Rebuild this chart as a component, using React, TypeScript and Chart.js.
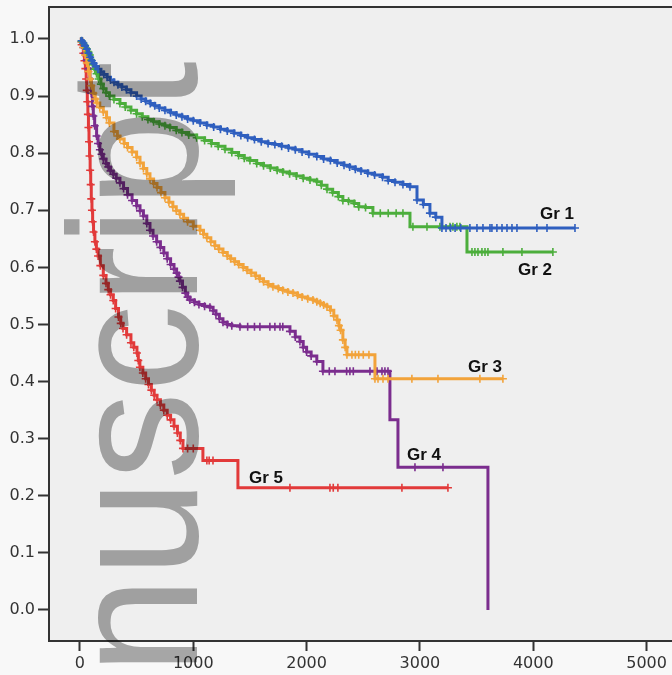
import React, { useEffect, useRef } from 'react';
import { Chart, registerables } from 'chart.js';

Chart.register(...registerables);

// Axis ticks
const xTicks = [0, 1000, 2000, 3000, 4000, 5000];
const yTicks = [0, 0.1, 0.2, 0.3, 0.4, 0.5, 0.6, 0.7, 0.8, 0.9, 1.0];

// Gr 1 (time, survival, censor flag)
const g1T = [0,15,30,45,60,75,90,105,120,140,160,185,210,240,270,300,335,370,410,450,500,540,580,620,660,700,750,800,850,900,950,1000,1060,1120,1180,1240,1300,1360,1420,1480,1540,1600,1660,1720,1780,1840,1900,1960,2020,2090,2150,2210,2270,2330,2380,2430,2480,2540,2600,2670,2720,2780,2850,2912,2974,3030,3088,3140,3194,3230,3270,3310,3360,3441,3503,3556,3618,3635,3679,3724,3768,3812,3856,4032,4121,4368];
const g1S = [1.0,0.997,0.993,0.988,0.982,0.975,0.968,0.962,0.957,0.952,0.947,0.942,0.938,0.933,0.928,0.924,0.92,0.916,0.911,0.906,0.9,0.895,0.891,0.887,0.883,0.879,0.875,0.871,0.867,0.864,0.86,0.857,0.853,0.849,0.846,0.842,0.839,0.835,0.831,0.827,0.824,0.82,0.817,0.815,0.812,0.809,0.806,0.802,0.798,0.794,0.79,0.787,0.783,0.779,0.776,0.772,0.769,0.765,0.762,0.758,0.752,0.749,0.745,0.741,0.718,0.71,0.695,0.688,0.669,0.669,0.669,0.669,0.669,0.669,0.669,0.669,0.669,0.669,0.669,0.669,0.669,0.669,0.669,0.669,0.669,0.669];
const g1C = [0,1,1,1,1,1,1,1,1,1,1,1,1,1,1,1,1,1,1,1,1,1,1,1,1,1,1,1,1,1,1,1,1,1,1,1,1,1,1,1,1,1,1,1,1,1,1,1,1,1,1,1,1,1,1,1,1,1,1,1,1,1,1,1,1,1,1,1,1,1,1,1,1,1,1,1,1,1,1,1,1,1,1,1,1,1];

// Gr 2
const g2T = [0,15,30,45,60,75,88,100,115,130,147,165,185,206,230,260,300,353,400,450,500,550,600,650,700,750,794,850,900,960,1030,1100,1160,1220,1280,1340,1400,1450,1500,1560,1620,1680,1740,1791,1850,1910,1970,2030,2090,2130,2180,2230,2280,2320,2370,2420,2460,2520,2585,2650,2720,2790,2850,2912,2938,3062,3176,3265,3291,3326,3353,3415,3459,3485,3512,3547,3574,3600,3732,3900,4173];
const g2S = [1.0,0.996,0.992,0.988,0.983,0.977,0.972,0.963,0.955,0.947,0.939,0.93,0.921,0.913,0.906,0.9,0.894,0.887,0.881,0.875,0.869,0.864,0.859,0.855,0.851,0.848,0.845,0.84,0.836,0.832,0.827,0.822,0.817,0.812,0.807,0.801,0.796,0.791,0.787,0.782,0.778,0.774,0.77,0.767,0.764,0.76,0.756,0.753,0.75,0.744,0.737,0.731,0.724,0.717,0.716,0.712,0.706,0.705,0.695,0.695,0.695,0.695,0.695,0.671,0.671,0.671,0.671,0.671,0.671,0.671,0.671,0.627,0.627,0.627,0.627,0.627,0.627,0.627,0.627,0.627,0.627];
const g2C = [0,1,1,1,1,1,1,1,1,1,1,1,1,1,1,1,1,1,1,1,1,1,1,1,1,1,1,1,1,1,1,1,1,1,1,1,1,1,1,1,1,1,1,1,1,1,1,1,1,1,1,1,1,1,1,1,1,1,1,1,1,1,1,0,1,1,1,1,1,1,1,0,1,1,1,1,1,1,1,1,1];

// Gr 3
const g3T = [0,15,30,45,60,75,88,100,118,135,150,175,206,235,260,300,330,353,390,420,460,500,530,560,590,618,650,680,715,750,785,820,850,882,915,950,1000,1059,1090,1120,1155,1190,1225,1262,1300,1330,1365,1400,1440,1474,1510,1550,1585,1620,1660,1703,1750,1790,1835,1880,1920,1960,2010,2056,2090,2120,2150,2180,2210,2240,2268,2285,2300,2320,2340,2356,2400,2430,2460,2500,2550,2603,2630,2674,2718,2929,3159,3529,3732];
const g3S = [1.0,0.995,0.985,0.972,0.958,0.943,0.93,0.918,0.905,0.895,0.888,0.88,0.872,0.862,0.853,0.838,0.83,0.825,0.817,0.81,0.802,0.793,0.783,0.773,0.764,0.755,0.747,0.74,0.731,0.722,0.714,0.706,0.699,0.693,0.686,0.68,0.672,0.665,0.658,0.652,0.645,0.638,0.632,0.626,0.62,0.615,0.61,0.605,0.6,0.595,0.59,0.585,0.58,0.575,0.57,0.566,0.563,0.56,0.557,0.555,0.551,0.548,0.545,0.543,0.54,0.537,0.534,0.531,0.525,0.515,0.508,0.498,0.49,0.473,0.46,0.447,0.447,0.447,0.447,0.447,0.447,0.405,0.405,0.405,0.405,0.405,0.405,0.405,0.405];
const g3C = [0,1,1,1,1,1,1,1,1,1,1,1,1,1,1,1,1,1,1,1,1,1,1,1,1,1,1,1,1,1,1,1,1,1,1,1,1,1,1,1,1,1,1,1,1,1,1,1,1,1,1,1,1,1,1,1,1,1,1,1,1,1,1,1,1,1,1,1,1,1,1,1,1,1,1,1,1,1,1,1,1,1,1,1,1,1,1,1,1];

// Gr 4
const g4T = [0,15,30,45,60,75,88,100,110,118,130,147,160,176,190,206,230,250,270,294,320,353,385,420,460,500,530,560,590,618,645,677,710,740,770,800,830,853,870,882,905,930,950,970,1010,1050,1100,1147,1175,1200,1230,1262,1300,1340,1412,1480,1540,1588,1676,1720,1765,1790,1853,1900,1941,1970,2000,2040,2090,2144,2200,2250,2353,2382,2412,2559,2621,2665,2691,2718,2735,2806,2956,3203,3600];
const g4S = [1.0,0.995,0.985,0.975,0.963,0.948,0.93,0.905,0.882,0.865,0.848,0.83,0.817,0.806,0.798,0.79,0.782,0.776,0.769,0.763,0.756,0.748,0.738,0.727,0.717,0.708,0.699,0.69,0.677,0.665,0.655,0.645,0.635,0.625,0.615,0.605,0.597,0.59,0.583,0.576,0.565,0.555,0.548,0.543,0.539,0.535,0.532,0.53,0.524,0.518,0.51,0.504,0.5,0.498,0.496,0.496,0.496,0.496,0.496,0.496,0.496,0.496,0.488,0.478,0.47,0.46,0.452,0.445,0.435,0.418,0.418,0.418,0.418,0.418,0.418,0.418,0.418,0.418,0.418,0.418,0.333,0.25,0.25,0.25,0.0];
const g4C = [0,1,1,1,1,1,1,1,1,1,1,1,1,1,1,1,1,1,1,1,1,1,1,1,1,1,1,1,1,1,1,1,1,1,1,1,1,1,1,1,1,1,1,1,1,1,1,1,1,1,1,1,1,1,1,1,1,1,1,1,1,1,1,1,1,1,1,1,1,1,1,1,1,1,1,1,1,1,1,1,0,0,1,1,0];

// Gr 5
const g5T = [0,15,30,40,48,55,60,65,70,75,80,85,90,95,100,106,112,120,132,145,160,180,206,230,250,270,294,315,340,360,380,412,450,475,503,515,529,555,580,605,630,655,680,710,740,770,800,830,860,885,909,950,1000,1085,1120,1140,1174,1394,1853,2206,2235,2276,2841,3247];
const g5S = [1.0,0.99,0.975,0.962,0.948,0.93,0.91,0.89,0.868,0.845,0.82,0.795,0.77,0.745,0.72,0.7,0.68,0.662,0.645,0.632,0.62,0.603,0.586,0.572,0.561,0.552,0.542,0.528,0.513,0.502,0.493,0.482,0.468,0.46,0.45,0.437,0.425,0.415,0.405,0.395,0.385,0.376,0.368,0.359,0.35,0.341,0.333,0.322,0.31,0.297,0.283,0.283,0.283,0.262,0.262,0.262,0.262,0.214,0.214,0.214,0.214,0.214,0.214,0.214];
const g5C = [0,1,1,1,1,1,1,1,1,1,1,1,1,1,1,1,1,1,1,1,1,1,1,1,1,1,1,1,1,1,1,1,1,1,1,1,1,1,1,1,1,1,1,1,1,1,1,1,1,1,1,1,1,0,1,1,1,0,1,1,1,1,1,1];

const groupNames = ['Gr 1', 'Gr 2', 'Gr 3', 'Gr 4', 'Gr 5'];
const groupColors = ['#2f5fbf', '#4cae3c', '#f2a33a', '#7b2d8e', '#e23a3a'];
const labelT = [4059, 3865, 3424, 2885, 1491];
const labelS = [0.685, 0.587, 0.417, 0.263, 0.222];
const watermarkText = 'nuscript';

const groups = [
  [g1T, g1S, g1C],
  [g2T, g2S, g2C],
  [g3T, g3S, g3C],
  [g4T, g4S, g4C],
  [g5T, g5S, g5C],
];

const decorPlugin = {
  id: 'decor',
  beforeDraw(chart: any) {
    const { ctx, chartArea, width, height } = chart;
    ctx.save();
    ctx.fillStyle = '#f8f8f8';
    ctx.fillRect(0, 0, width, height);
    ctx.fillStyle = '#efefef';
    ctx.fillRect(chartArea.left, chartArea.top, chartArea.right - chartArea.left, chartArea.bottom - chartArea.top);
    ctx.restore();
  },
  afterDatasetsDraw(chart: any) {
    const { ctx, chartArea, scales } = chart;
    ctx.save();
    // top border
    ctx.strokeStyle = '#333333';
    ctx.lineWidth = 2;
    ctx.beginPath();
    ctx.moveTo(chartArea.left, chartArea.top);
    ctx.lineTo(chartArea.right, chartArea.top);
    ctx.stroke();
    // group labels
    ctx.fillStyle = '#111111';
    ctx.font = 'bold 17px "Liberation Sans", Arial, sans-serif';
    ctx.textAlign = 'left';
    ctx.textBaseline = 'alphabetic';
    groupNames.forEach((name, i) => {
      ctx.fillText(name, scales.x.getPixelForValue(labelT[i]), scales.y.getPixelForValue(labelS[i]));
    });
    ctx.restore();
  },
  afterDraw(chart: any) {
    const { ctx } = chart;
    ctx.save();
    ctx.globalCompositeOperation = 'multiply';
    ctx.fillStyle = '#ababab';
    ctx.font = '176px "Liberation Sans", Arial, sans-serif';
    ctx.textAlign = 'left';
    ctx.textBaseline = 'alphabetic';
    ctx.translate(197, 674.5);
    ctx.rotate(-Math.PI / 2);
    ctx.scale(0.995, 1.04);
    ctx.fillText(watermarkText, 0, 0);
    ctx.restore();
  },
};

export default function App() {
  const canvasRef = useRef<HTMLCanvasElement | null>(null);

  useEffect(() => {
    const canvas = canvasRef.current;
    if (!canvas) return;
    const datasets = groups.map(([T, S, C], gi) => ({
      label: groupNames[gi],
      data: T.map((t, i) => ({ x: t, y: S[i] })),
      borderColor: groupColors[gi],
      backgroundColor: groupColors[gi],
      borderWidth: 3,
      stepped: true as const,
      fill: false,
      pointStyle: 'cross' as const,
      pointRadius: (ctx: any) => (C[ctx.dataIndex] ? 4 : 0),
      pointHoverRadius: 0,
      pointBorderWidth: 1.6,
      pointBorderColor: groupColors[gi],
    }));

    const chart = new Chart(canvas, {
      type: 'line',
      data: { datasets },
      options: {
        animation: false,
        responsive: false,
        devicePixelRatio: 1,
        layout: { autoPadding: false, padding: { top: 7, left: 0, right: 0, bottom: 0 } },
        plugins: { legend: { display: false }, tooltip: { enabled: false } },
        scales: {
          x: {
            type: 'linear',
            min: -273,
            max: 5224,
            afterBuildTicks: (scale: any) => {
              scale.ticks = xTicks.map((v) => ({ value: v }));
            },
            afterFit: (scale: any) => {
              scale.height = 34;
              scale.paddingLeft = 0;
              scale.paddingRight = 0;
            },
            ticks: {
              callback: (v: any) => String(v),
              font: { family: '"DejaVu Sans", sans-serif', size: 16 },
              color: '#333333',
              padding: 3,
              maxRotation: 0,
              autoSkip: false,
            },
            grid: {
              drawOnChartArea: false,
              drawTicks: true,
              tickLength: 10,
              tickWidth: 2,
              tickColor: '#333333',
            },
            border: { display: true, color: '#333333', width: 2 },
          },
          y: {
            type: 'linear',
            min: -0.0543,
            max: 1.056,
            afterBuildTicks: (scale: any) => {
              scale.ticks = yTicks.map((v) => ({ value: v }));
            },
            afterFit: (scale: any) => {
              scale.width = 49;
              scale.paddingTop = 0;
              scale.paddingBottom = 0;
            },
            ticks: {
              callback: (v: any) => Number(v).toFixed(1),
              font: { family: '"DejaVu Sans", sans-serif', size: 16 },
              color: '#333333',
              padding: 3,
              autoSkip: false,
            },
            grid: {
              drawOnChartArea: false,
              drawTicks: true,
              tickLength: 11,
              tickWidth: 2,
              tickColor: '#333333',
            },
            border: { display: true, color: '#333333', width: 2 },
          },
        },
      },
      plugins: [decorPlugin],
    });
    return () => chart.destroy();
  }, []);

  return (
    <div style={{ position: 'fixed', left: 0, top: 0, width: 672, height: 675 }}>
      <canvas ref={canvasRef} width={672} height={675} style={{ display: 'block', width: 672, height: 675 }} />
    </div>
  );
}
